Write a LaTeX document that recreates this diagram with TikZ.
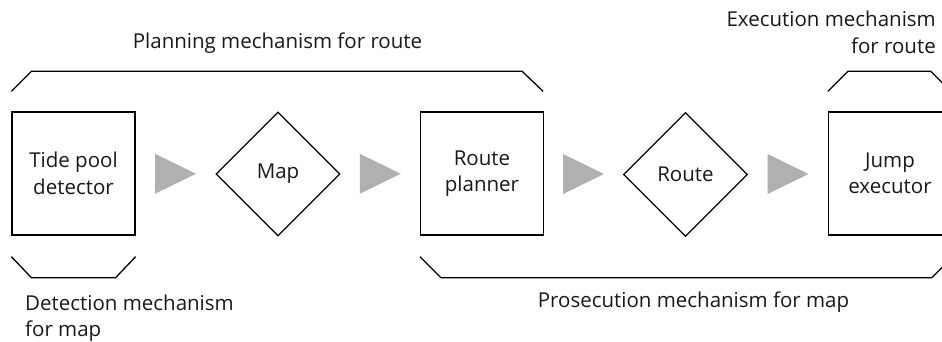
\documentclass[tikz,border=0pt]{standalone}
\usepackage{fontspec}
\setmainfont{Open Sans}
\usetikzlibrary{shapes.geometric,calc}
\begin{document}
\begin{tikzpicture}[x=1pt,y=-1pt,
  every node/.style={font=\fontsize{20.5}{26.5}\selectfont, text=black!90},
  procbox/.style={draw, line width=1.3pt, minimum width=123, minimum height=123, inner sep=0pt, align=center},
  datadiam/.style={draw, diamond, line width=1.3pt, minimum width=124, minimum height=124, inner sep=0pt, align=center},
  bracket/.style={draw, line width=1.3pt},
  arrowfill/.style={fill=black!31},
  label/.style={inner sep=0pt}
]
\useasboundingbox (0,0) rectangle (942,342);
\clip (0,0) rectangle (942,342);
\node[procbox] (b1) at (73.5,173.5) {Tide pool\\detector};
\node[datadiam] (m1) at (278,174) {Map};
\node[procbox] (b2) at (482,173.5) {Route\\planner};
\node[datadiam] (m2) at (685.5,174.5) {Route};
\node[procbox] (b3) at (890,173.5) {Jump\\executor};

\foreach \s/\t/\n in {b1/m1/a1, m1/b2/a2, b2/m2/a3, m2/b3/a4}{
  \path (\s.east) -- (\t.west) coordinate[midway] (\n);
  \fill[arrowfill] ($(\n)+(-20.5,-20)$) -- ($(\n)+(20.5,0)$) -- ($(\n)+(-20.5,20)$) -- cycle;
}

% planning bracket
\draw[bracket] ($(b1.north west)+(0,-20)$) -- ++(20,-20) -- ($(b2.north east)+(-22,-40)$) -- ++(21,20);
% detection bracket
\draw[bracket] ($(b1.south west)+(0,21)$) -- ++(20,21) -- ($(b1.south east)+(-20,42)$) -- ++(20,-21);
% prosecution bracket
\draw[bracket] ($(b2.south west)+(0,21)$) -- ++(21,21) -- ($(b3.south west)+(104,42)$) -- ++(20,-20);
% execution bracket
\draw[bracket] ($(b3.north west)+(0,-20)$) -- ++(20,-20) -- ($(b3.north west)+(103,-40)$) -- ++(20,20);

\node[label, anchor=base] (t1) at (277.5,49) {Planning mechanism for route};
\node[label, anchor=base] (t2) at (693.5,307) {Prosecution mechanism for map};
\node[label, align=left, anchor=north west] (t3) at (25,294.5) {Detection mechanism\\for map};
\node[label, align=right, anchor=north east] (t4) at (936,11) {Execution mechanism\\for route};
\end{tikzpicture}
\end{document}
